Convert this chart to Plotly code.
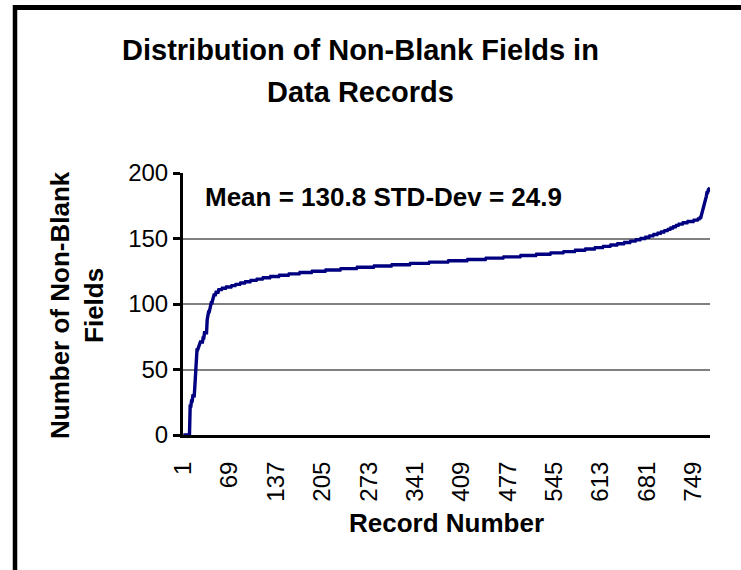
import numpy as np
import plotly.graph_objects as go

# Frequency table: number of non-blank fields -> how many records have it
field_values = [0, 22, 26, 30, 38, 48, 58, 65, 67, 71, 74, 78, 88, 94, 98, 101, 104, 107,
                109, 111, 112, 113, 114, 115, 116, 117, 118, 119, 120, 121, 122, 123, 124,
                125, 126, 127, 128, 129, 130, 131, 132, 133, 134, 135, 136, 137, 138, 139,
                140, 141, 142, 143, 144, 145, 146, 147, 148, 149, 150, 151, 152, 153, 154,
                155, 156, 157, 158, 159, 160, 161, 162, 163, 164, 165, 166, 168, 170, 172,
                174, 176, 179, 182, 185, 187, 189]
record_counts = [10, 2, 2, 3, 1, 1, 1, 2, 2, 5, 2, 4, 1, 3, 2, 2, 2, 3,
                 4, 5, 6, 8, 6, 7, 7, 8, 9, 9, 11, 13, 14, 16, 18,
                 20, 22, 24, 25, 26, 27, 28, 28, 28, 27, 26, 25, 23, 21, 19,
                 17, 15, 14, 12, 11, 10, 10, 9, 8, 7, 7, 6, 6, 6, 5,
                 5, 5, 4, 4, 4, 4, 6, 7, 9, 6, 3, 2, 1, 1, 1,
                 2, 1, 1, 1, 2, 2, 1]
tick_labels = [1, 69, 137, 205, 273, 341, 409, 477, 545, 613, 681, 749]
y_ticks = [0, 50, 100, 150, 200]

fields = np.repeat(field_values, record_counts)
records = np.arange(1, len(fields) + 1)

FONT = "Liberation Sans, Arial, sans-serif"

fig = go.Figure()
fig.add_trace(go.Scatter(
    x=records, y=fields, mode="lines",
    line=dict(color="#000080", width=3.4),
    hoverinfo="skip", showlegend=False,
))

# plot area in pixels
L, R, T, B = 183, 710, 173, 435
W, H = 741, 570
pw, ph = R - L, B - T

def px(x):
    return (x - L) / pw

def py(y):
    return (B - y) / ph

fig.update_layout(
    width=W, height=H,
    margin=dict(l=L, r=W - R, t=T, b=H - B, pad=0),
    paper_bgcolor="white", plot_bgcolor="white",
    font=dict(family=FONT, color="black", size=24),
    xaxis=dict(
        range=[0.5, len(fields) + 0.5],
        tickmode="array", tickvals=tick_labels, ticktext=[str(t) for t in tick_labels],
        tickangle=-90, ticks="", showgrid=False, zeroline=False,
        showline=True, linecolor="black", linewidth=3,
        tickfont=dict(size=24), ticklabelstandoff=14,
    ),
    yaxis=dict(
        range=[0, 200], tickmode="array", tickvals=y_ticks,
        ticks="outside", ticklen=7, tickwidth=3, tickcolor="black",
        showgrid=True, gridcolor="#808080", gridwidth=1.5,
        zeroline=False, showline=True, linecolor="black", linewidth=3,
        tickfont=dict(size=24),
    ),
)

annotations = [
    dict(text="<b>Distribution of Non-Blank Fields in</b>", x=px(360), y=py(50)),
    dict(text="<b>Data Records</b>", x=px(360), y=py(92)),
]
for a in annotations:
    fig.add_annotation(xref="paper", yref="paper", showarrow=False,
                       xanchor="center", yanchor="middle",
                       font=dict(size=29, family=FONT), **a)

fig.add_annotation(xref="paper", yref="paper", showarrow=False,
                   x=px(203), y=py(197), xanchor="left", yanchor="middle",
                   text="<b>Mean = 130.8 STD-Dev = 24.9</b>",
                   font=dict(size=26, family=FONT))

fig.add_annotation(xref="paper", yref="paper", showarrow=False,
                   x=px(446), y=py(523), xanchor="center", yanchor="middle",
                   text="<b>Record Number</b>", font=dict(size=26, family=FONT))

fig.add_annotation(xref="paper", yref="paper", showarrow=False,
                   x=px(77), y=py(305), xanchor="center", yanchor="middle",
                   textangle=-90, align="center",
                   text="<b>Number of Non-Blank<br>Fields</b>",
                   font=dict(size=26, family=FONT))

# outer chart frame (top and left edges visible)
fig.add_shape(type="line", xref="paper", yref="paper",
              x0=px(13), x1=px(W + 10), y0=py(7.5), y1=py(7.5),
              line=dict(color="black", width=5))
fig.add_shape(type="line", xref="paper", yref="paper",
              x0=px(15), x1=px(15), y0=py(5), y1=py(H + 10),
              line=dict(color="black", width=4.5))

fig.write_html("out.html")
